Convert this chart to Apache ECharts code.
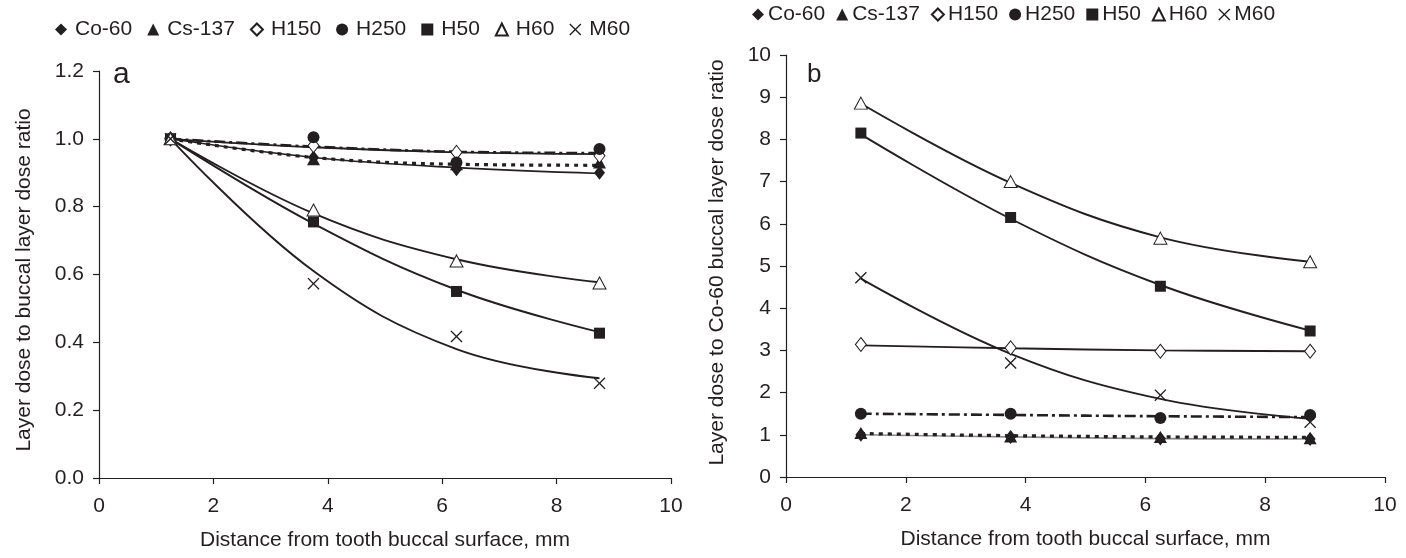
<!DOCTYPE html>
<html>
<head>
<meta charset="utf-8">
<script src="https://cdn.jsdelivr.net/npm/echarts@6/dist/echarts.min.js"></script>
<style>
    html, body { margin: 0; padding: 0; background: #fff; }
    #main { width: 1406px; height: 558px; }
</style>
</head>
<body>
<div id="main"></div>
<script>
// distance from tooth buccal surface, mm
var distances = [1.25, 3.75, 6.25, 8.75]
var names = ['Co-60', 'Cs-137', 'H150', 'H250', 'H50', 'H60', 'M60']

// panel a: layer dose / buccal layer dose (measured points)
var aCo60 = [1.0, 0.945, 0.91, 0.9]
var aCs137 = [1.0, 0.94, 0.925, 0.93]
var aH150 = [1.0, 0.98, 0.96, 0.95]
var aH250 = [1.0, 1.005, 0.93, 0.97]
var aH50 = [1.0, 0.755, 0.55, 0.427]
var aH60 = [1.0, 0.79, 0.64, 0.575]
var aM60 = [1.0, 0.573, 0.417, 0.279]
// panel a: trend lines
var aFitCo60 = [1.0, 0.945, 0.915, 0.898]
var aFitCs137 = [1.0, 0.945, 0.925, 0.922]
var aFitH150 = [1.0, 0.975, 0.96, 0.955]
var aFitH250 = [1.0, 0.977, 0.962, 0.958]
var aFitH50 = [1.0, 0.75, 0.555, 0.43]
var aFitH60 = [1.0, 0.78, 0.645, 0.577]
var aFitM60 = [1.0, 0.61, 0.38, 0.294]

// panel b: layer dose / Co-60 buccal layer dose (measured points)
var bCo60 = [1.0, 0.95, 0.91, 0.9]
var bCs137 = [1.04, 0.96, 0.95, 0.92]
var bH150 = [3.14, 3.06, 2.98, 2.98]
var bH250 = [1.5, 1.5, 1.4, 1.47]
var bH50 = [8.15, 6.15, 4.52, 3.46]
var bH60 = [8.86, 7.0, 5.66, 5.1]
var bM60 = [4.72, 2.7, 1.94, 1.3]
// panel b: trend lines
var bFitCo60 = [1.0, 0.95, 0.91, 0.9]
var bFitCs137 = [1.03, 0.98, 0.95, 0.94]
var bFitH150 = [3.12, 3.05, 3.0, 2.98]
var bFitH250 = [1.5, 1.47, 1.44, 1.42]
var bFitH50 = [8.12, 6.12, 4.55, 3.47]
var bFitH60 = [8.85, 6.97, 5.68, 5.1]
var bFitM60 = [4.7, 2.92, 1.85, 1.38]

var xTicks = [0, 2, 4, 6, 8, 10]
var aYTicks = ['0.0', '0.2', '0.4', '0.6', '0.8', '1.0', '1.2']
var bYTicks = ['0', '1', '2', '3', '4', '5', '6', '7', '8', '9', '10']

var ink = '#231f20'
var font = 'Liberation Sans, Arial, sans-serif'
var fs = 21

var crossPath = 'path://M0,0.8L0.8,0L5,4.2L9.2,0L10,0.8L5.8,5L10,9.2L9.2,10L5,5.8L0.8,10L0,9.2L4.2,5Z'
var markers = {
    'Co-60': {symbol: 'diamond', size: [11, 14], fill: ink},
    'Cs-137': {symbol: 'triangle', size: [13, 12], fill: ink},
    'H150': {symbol: 'diamond', size: [11, 14], fill: '#fff'},
    'H250': {symbol: 'circle', size: [12, 12], fill: ink},
    'H50': {symbol: 'rect', size: [11, 11], fill: ink},
    'H60': {symbol: 'triangle', size: [13, 12], fill: '#fff'},
    'M60': {symbol: crossPath, size: [12, 12], fill: ink},
}
var lineTypes = {
    'Co-60': 'solid',
    'Cs-137': [4, 5],
    'H150': 'solid',
    'H250': [11, 4, 3, 4],
    'H50': 'solid',
    'H60': 'solid',
    'M60': 'solid',
}
var lineWidths = {'Co-60': 1.6, 'Cs-137': 3.2, 'H150': 1.9, 'H250': 2.6, 'H50': 1.9, 'H60': 1.9, 'M60': 1.9}

var pairs = (ys) => ys.map((y, i) => [distances[i], y])

var pointSeries = (name, ys, k) => {
    var m = markers[name]
    return {
        name: name,
        type: 'scatter',
        xAxisIndex: k,
        yAxisIndex: k,
        symbol: m.symbol,
        symbolSize: m.size,
        z: 5,
        itemStyle: {color: m.fill, borderColor: ink, borderWidth: m.fill === '#fff' ? 1 : 0, opacity: 1},
        data: pairs(ys),
    }
}

var fitSeries = (name, ys, k, color) => {
    return {
        name: name + ' fit',
        type: 'line',
        xAxisIndex: k,
        yAxisIndex: k,
        smooth: 0.4,
        showSymbol: false,
        symbol: 'none',
        z: 3,
        silent: true,
        lineStyle: {color: color || ink, width: lineWidths[name], type: lineTypes[name]},
        data: pairs(ys),
    }
}

var xAxisFor = (k) => {
    return {
        type: 'value',
        gridIndex: k,
        min: 0,
        max: 10,
        interval: 2,
        name: 'Distance from tooth buccal surface, mm',
        nameLocation: 'middle',
        nameGap: 52,
        nameTextStyle: {color: ink, fontSize: fs, fontFamily: font},
        axisLine: {lineStyle: {color: ink, width: 1.2}},
        axisTick: {inside: false, length: 6, lineStyle: {color: ink, width: 1.2}},
        axisLabel: {color: ink, fontSize: fs, fontFamily: font, margin: 18},
        splitLine: {show: false},
    }
}

var yAxisFor = (k, max, interval, ticks, name, gap, pad) => {
    return {
        type: 'value',
        gridIndex: k,
        min: 0,
        max: max,
        interval: interval,
        name: name,
        nameLocation: 'middle',
        nameGap: gap,
        nameTextStyle: {color: ink, fontSize: fs, fontFamily: font, padding: pad},
        axisLine: {show: true, lineStyle: {color: ink, width: 1.2}},
        axisTick: {show: true, inside: false, length: 6, lineStyle: {color: ink, width: 1.2}},
        axisLabel: {
            color: ink, fontSize: fs, fontFamily: font, margin: 15,
            formatter: (v) => ticks[Math.round(v / interval)],
        },
        splitLine: {show: false},
    }
}

var legendFor = (left, top, gap, textPad) => {
    return {
        data: names,
        left: left,
        top: top,
        orient: 'horizontal',
        padding: 0,
        itemWidth: 12,
        itemHeight: 12,
        itemGap: gap,
        selectedMode: false,
        textStyle: {color: ink, fontSize: fs, fontFamily: font, padding: [0, 0, 0, textPad]},
    }
}

var chartDose = () => {
    var element = document.querySelector('#main')
    var myChart = echarts.init(element, null, {renderer: 'canvas'})

    var aPoints = [aCo60, aCs137, aH150, aH250, aH50, aH60, aM60]
    var aFits = [aFitCo60, aFitCs137, aFitH150, aFitH250, aFitH50, aFitH60, aFitM60]
    var bPoints = [bCo60, bCs137, bH150, bH250, bH50, bH60, bM60]
    var bFits = [bFitCo60, bFitCs137, bFitH150, bFitH250, bFitH50, bFitH60, bFitM60]

    var series = []
    names.forEach((n, i) => {
        series.push(fitSeries(n, aFits[i], 0))
        series.push(fitSeries(n, bFits[i], 1, n === 'Co-60' ? '#8a8a8a' : ink))
    })
    names.forEach((n, i) => {
        series.push(pointSeries(n, aPoints[i], 0))
        series.push(pointSeries(n, bPoints[i], 1))
    })

    var option = {
        animation: false,
        backgroundColor: '#fff',
        textStyle: {fontFamily: font},
        title: [
            {text: 'a', left: 108, top: 55, textStyle: {color: ink, fontSize: 30, fontWeight: 'normal', fontFamily: font}},
            {text: 'b', left: 802, top: 57, textStyle: {color: ink, fontSize: 26, fontWeight: 'normal', fontFamily: font}},
        ],
        legend: [legendFor(55, 19, 15, 3), legendFor(752, 4, 11, -1)],
        grid: [
            {left: 99, top: 71, width: 572, height: 407, containLabel: false},
            {left: 786, top: 55, width: 599, height: 422, containLabel: false},
        ],
        xAxis: [xAxisFor(0), xAxisFor(1)],
        yAxis: [
            yAxisFor(0, 1.2, 0.2, aYTicks, 'Layer dose to buccal layer dose ratio', 64, [0, 11, 0, 0]),
            yAxisFor(1, 10, 1, bYTicks, 'Layer dose to Co-60 buccal layer dose ratio', 58, [0, 0, 0, 7]),
        ],
        series: series,
    }

    myChart.setOption(option)
}

var __main = () => {
    chartDose()
}
__main()
</script>
</body>
</html>
